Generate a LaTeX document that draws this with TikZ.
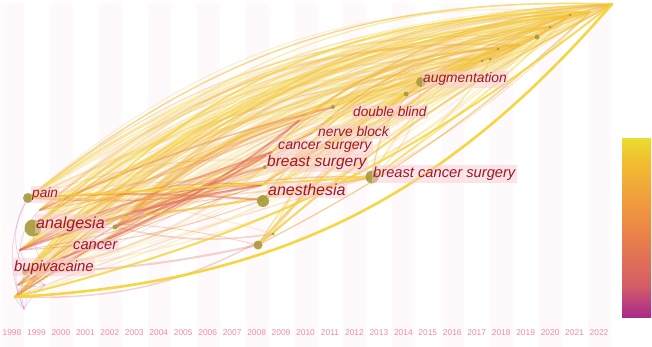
\documentclass[tikz,border=0pt]{standalone}
\usepackage{fontspec}
\setmainfont{Liberation Sans}
\usetikzlibrary{calc}
\definecolor{stripepink}{HTML}{FEF9FB}
\definecolor{yearpink}{HTML}{F28AA6}
\definecolor{kwred}{HTML}{9E1828}
\definecolor{labbg}{HTML}{F7CDD3}
\definecolor{nodeol}{HTML}{A89A3A}
\definecolor{ycol1}{HTML}{F6D22E}
\definecolor{ycol2}{HTML}{F3C040}
\definecolor{ycol3}{HTML}{F8E070}
\definecolor{ycol4}{HTML}{F2AE48}
\definecolor{ocol1}{HTML}{F09A48}
\definecolor{ocol2}{HTML}{EA8052}
\definecolor{ocol3}{HTML}{E0665C}
\definecolor{ocol4}{HTML}{F4B850}
\definecolor{mcol}{HTML}{C87AC4}
\definecolor{pcol}{HTML}{EBA6C0}
\definecolor{cby}{HTML}{E9DC32}
\definecolor{cby2}{HTML}{F2BE30}
\definecolor{cbo}{HTML}{F1A03C}
\definecolor{cbo2}{HTML}{E9804A}
\definecolor{cbr}{HTML}{D45E66}
\definecolor{cbm}{HTML}{A82A8A}
\pgfdeclareverticalshading{cbar}{100bp}{color(0bp)=(cbm); color(25bp)=(cbm); color(34bp)=(cbr); color(47.5bp)=(cbo2); color(59bp)=(cbo); color(69bp)=(cby2); color(75bp)=(cby); color(100bp)=(cby)}
\tikzset{
  stripe/.style={fill=stripepink, draw=none},
  yr/.style={text=yearpink, font=\fontsize{8.4}{8.4}\selectfont, anchor=center, inner sep=0pt},
  kw/.style={text=kwred, fill=labbg, fill opacity=0.5, text opacity=1, inner xsep=1.5pt, inner ysep=2pt, anchor=base west},
  kwdot/.style={circle, fill=nodeol, fill opacity=0.9, draw=none, inner sep=0pt},
  edge/.style={line cap=round},
}
\begin{document}
\begin{tikzpicture}[x=1pt,y=-1pt]
\useasboundingbox (0,0) rectangle (652,347);
\fill[white] (0,0) rectangle (652,347);
% stripes
\foreach \k in {0,2,...,24}{
  \fill[stripe] ({1+24.46*\k},3) rectangle ++(23,344);
}
% years
\foreach \k in {0,...,24}{
  \pgfmathtruncatemacro{\yy}{1998+\k}
  \node[yr] (yr\k) at ({12+24.46*\k},333) {\yy};
}
% coordinates of network nodes
\coordinate (L1) at (28,198);
\coordinate (L2) at (33,227);
\coordinate (L3) at (25,272);
\coordinate (L4) at (15,297);
\coordinate (L5) at (20,250);
\coordinate (L6) at (115,227);
\coordinate (L7) at (130,214);
\coordinate (L8) at (40,210);
\coordinate (L9) at (18,285);
\coordinate (M1) at (263,200);
\coordinate (M2) at (265,167);
\coordinate (M3) at (258,245);
\coordinate (M4) at (273,234);
\coordinate (M5) at (272,152);
\coordinate (M6) at (312,133);
\coordinate (M7) at (333,107);
\coordinate (M8) at (372,177);
\coordinate (M9) at (262,185);
\coordinate (M10) at (300,120);
\coordinate (R1) at (421,82);
\coordinate (R2) at (406,94);
\coordinate (R3) at (482,61);
\coordinate (R4) at (490,59);
\coordinate (R5) at (498,49);
\coordinate (R6) at (537,37);
\coordinate (R7) at (550,27);
\coordinate (R8) at (570,15);
\coordinate (R9) at (590,12);
\coordinate (R10) at (612,4);
\coordinate (R11) at (450,75);
\coordinate (R12) at (520,45);
\coordinate (P1) at (24,309);
\coordinate (P2) at (45,285);
\coordinate (P3) at (42,262);
\coordinate (P4) at (143,213);
% edges
\pgfmathsetseed{11}
% outer upper arcs
\foreach \k in {1,...,30}{
  \pgfmathtruncatemacro{\i}{random(1,5)}
  \pgfmathtruncatemacro{\j}{random(6,10)}
  \pgfmathsetmacro{\b}{14+10*rnd}
  \pgfmathsetmacro{\w}{0.5+1.4*rnd}
  \pgfmathsetmacro{\o}{0.15+0.3*rnd}
  \pgfmathtruncatemacro{\c}{random(1,4)}
  \draw[edge, draw=ycol\c, line width=\w pt, draw opacity=\o] (L\i) to[bend left=\b] (R\j);
}
% long yellow arcs left -> right
\foreach \k in {1,...,90}{
  \pgfmathtruncatemacro{\i}{random(1,9)}
  \pgfmathtruncatemacro{\j}{random(1,12)}
  \pgfmathsetmacro{\b}{4+20*rnd}
  \pgfmathsetmacro{\w}{0.5+1.6*rnd}
  \pgfmathsetmacro{\o}{0.15+0.3*rnd}
  \pgfmathtruncatemacro{\c}{random(1,4)}
  \draw[edge, draw=ycol\c, line width=\w pt, draw opacity=\o] (L\i) to[bend left=\b] (R\j);
}
% lower arcs
\foreach \k in {1,...,20}{
  \pgfmathtruncatemacro{\i}{random(1,9)}
  \pgfmathtruncatemacro{\j}{random(1,12)}
  \pgfmathsetmacro{\b}{4+18*rnd}
  \pgfmathsetmacro{\w}{0.5+1.5*rnd}
  \pgfmathsetmacro{\o}{0.2+0.3*rnd}
  \pgfmathtruncatemacro{\c}{random(1,4)}
  \draw[edge, draw=ycol\c, line width=\w pt, draw opacity=\o] (L\i) to[bend right=\b] (R\j);
}
% left -> middle, orange/red
\foreach \k in {1,...,45}{
  \pgfmathtruncatemacro{\i}{random(1,9)}
  \pgfmathtruncatemacro{\j}{random(1,10)}
  \pgfmathsetmacro{\b}{2+16*rnd}
  \pgfmathsetmacro{\w}{0.6+1.8*rnd}
  \pgfmathsetmacro{\o}{0.2+0.4*rnd}
  \pgfmathtruncatemacro{\c}{random(1,4)}
  \pgfmathtruncatemacro{\s}{random(0,2)}
  \ifnum\s=0
    \draw[edge, draw=ocol\c, line width=\w pt, draw opacity=\o] (L\i) to[bend right=\b] (M\j);
  \else
    \draw[edge, draw=ocol\c, line width=\w pt, draw opacity=\o] (L\i) to[bend left=\b] (M\j);
  \fi
}
% middle -> right
\foreach \k in {1,...,60}{
  \pgfmathtruncatemacro{\i}{random(1,10)}
  \pgfmathtruncatemacro{\j}{random(1,12)}
  \pgfmathsetmacro{\b}{3+20*rnd}
  \pgfmathsetmacro{\w}{0.5+1.6*rnd}
  \pgfmathsetmacro{\o}{0.2+0.4*rnd}
  \pgfmathtruncatemacro{\c}{random(1,4)}
  \pgfmathtruncatemacro{\s}{random(0,3)}
  \ifnum\s=0
    \draw[edge, draw=ycol\c, line width=\w pt, draw opacity=\o] (M\i) to[bend right=\b] (R\j);
  \else
    \draw[edge, draw=ycol\c, line width=\w pt, draw opacity=\o] (M\i) to[bend left=\b] (R\j);
  \fi
}
% right cluster chain
\foreach \k in {1,...,30}{
  \pgfmathtruncatemacro{\i}{random(1,12)}
  \pgfmathtruncatemacro{\j}{random(1,12)}
  \pgfmathsetmacro{\w}{0.5+1.2*rnd}
  \pgfmathsetmacro{\o}{0.2+0.3*rnd}
  \ifnum\i=\j\else
  \draw[edge, draw=ycol2, line width=\w pt, draw opacity=\o] (R\i) to[bend left=8] (R\j);
  \fi
}
% magenta / pink cluster bottom-left
\foreach \a/\b/\bb in {L4/P1/10, L3/P1/15, L5/P1/20, P2/P1/10, P3/P1/5, L9/P2/12, L3/P2/20, L2/P3/15, L5/P2/18, L1/P1/25, P3/L4/10, L2/P4/8, L6/P4/12, L7/P4/6, L2/L6/5, L1/L3/30, L8/L5/20}{
  \draw[edge, draw=mcol, line width=0.7pt, draw opacity=0.35] (\a) to[bend right=\bb] (\b);
}
\draw[edge, draw=pcol, line width=3pt, draw opacity=0.6] (L7) -- (P4);
% envelope curves
\draw[edge, draw=ycol1, line width=2.6pt, draw opacity=0.9] (L4) to[bend right=23] (R10);
\draw[edge, draw=ycol2, line width=1.4pt, draw opacity=0.6] (L1) to[bend left=20] (R10);
\draw[edge, draw=ycol3, line width=1.2pt, draw opacity=0.6] (L2) to[bend left=23] (R10);
\draw[edge, draw=ycol1, line width=1.6pt, draw opacity=0.7] (L3) to[bend left=25] (R9);
\draw[edge, draw=ycol1, line width=2pt, draw opacity=0.8] (L4) to[bend right=12] (R10);
\draw[edge, draw=ycol2, line width=2pt, draw opacity=0.7] (L2) to[bend right=3] (M8);
\draw[edge, draw=ocol2, line width=2pt, draw opacity=0.6] (L1) to[bend left=4] (M1);
\draw[edge, draw=ycol1, line width=2pt, draw opacity=0.8] (L1) -- (M8);
% nodes
\node[kwdot, minimum size=10pt] (npain) at (28,198) {};
\node[kwdot, minimum size=17pt] (nanalgesia) at (33,228) {};
\node[kwdot, minimum size=6pt] (nbupi) at (25,272) {};
\node[kwdot, minimum size=5pt] (ncancer) at (115,227) {};
\node[kwdot, minimum size=12pt] (nanesthesia) at (263,201) {};
\node[kwdot, minimum size=4pt] (nbsurg) at (265,167) {};
\node[kwdot, minimum size=9pt] (nm3) at (258,245) {};
\node[kwdot, minimum size=3pt] (nm4) at (273,234) {};
\node[kwdot, minimum size=4pt] (ndblind) at (333,107) {};
\node[kwdot, minimum size=13pt] (nbcs) at (372,177) {};
\node[kwdot, minimum size=10pt] (naug) at (421,82) {};
\node[kwdot, minimum size=5pt] (nr2) at (406,94) {};
\node[kwdot, minimum size=5pt] (nr6) at (537,37) {};
\node[kwdot, minimum size=3pt] (nr3) at (482,61) {};
\node[kwdot, minimum size=3pt] (nr4) at (490,59) {};
\node[kwdot, minimum size=3pt] (nr5) at (498,49) {};
\node[kwdot, minimum size=3pt] (nr7) at (550,27) {};
\node[kwdot, minimum size=3pt] (nr8) at (570,15) {};
% labels
\node[kw, font=\itshape\fontsize{13.6}{13.6}\selectfont] (tpain) at (30.5,198) {pain};
\node[kw, font=\itshape\fontsize{16}{16}\selectfont] (tanalgesia) at (34.5,228) {analgesia};
\node[kw, font=\itshape\fontsize{14.7}{14.7}\selectfont] (tcancer) at (71.5,249) {cancer};
\node[kw, font=\itshape\fontsize{14.9}{14.9}\selectfont] (tbupi) at (12.5,271) {bupivacaine};
\node[kw, font=\itshape\fontsize{16}{16}\selectfont] (tanesthesia) at (266.5,196) {anesthesia};
\node[kw, font=\itshape\fontsize{15.5}{15.5}\selectfont] (tbsurg) at (265.5,167) {breast surgery};
\node[kw, font=\itshape\fontsize{14.1}{14.1}\selectfont] (tcsurg) at (276.5,150) {cancer surgery};
\node[kw, font=\itshape\fontsize{13.8}{13.8}\selectfont] (tnblock) at (316.5,137) {nerve block};
\node[kw, font=\itshape\fontsize{13.6}{13.6}\selectfont] (tdblind) at (351.5,117) {double blind};
\node[kw, font=\itshape\fontsize{14.7}{14.7}\selectfont] (tbcs) at (371.5,178) {breast cancer surgery};
\node[kw, font=\itshape\fontsize{13.8}{13.8}\selectfont] (taug) at (421.5,83) {augmentation};
% colour bar
\shade[shading=cbar] (622,139) rectangle (651,317);
\end{tikzpicture}
\end{document}
